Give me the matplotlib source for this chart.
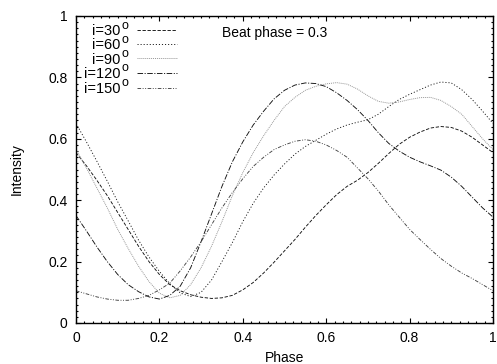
import numpy as np
import matplotlib
matplotlib.use("Agg")
import matplotlib.pyplot as plt
from matplotlib.lines import Line2D
from matplotlib.ticker import MultipleLocator

plt.rcParams['font.family'] = ['Liberation Sans', 'DejaVu Sans']
plt.rcParams['lines.scale_dashes'] = False

# ---- data ----
phase = [i * 0.025 for i in range(41)]

i30 = [0.555, 0.512, 0.465, 0.415, 0.360, 0.305, 0.250, 0.200, 0.158, 0.125,
       0.105, 0.092, 0.084, 0.080, 0.082, 0.090, 0.108, 0.132, 0.163, 0.198,
       0.235, 0.272, 0.312, 0.350, 0.385, 0.418, 0.445, 0.465, 0.490, 0.520,
       0.552, 0.582, 0.605, 0.622, 0.635, 0.640, 0.637, 0.625, 0.605, 0.580,
       0.555]

i60 = [0.650, 0.590, 0.527, 0.462, 0.395, 0.333, 0.270, 0.215, 0.168, 0.128,
       0.098, 0.086, 0.100, 0.140, 0.200, 0.262, 0.330, 0.390, 0.440, 0.482,
       0.518, 0.550, 0.575, 0.595, 0.615, 0.632, 0.645, 0.654, 0.662, 0.680,
       0.705, 0.728, 0.745, 0.760, 0.775, 0.785, 0.782, 0.760, 0.728, 0.690,
       0.650]

i90 = [0.565, 0.505, 0.440, 0.375, 0.305, 0.243, 0.185, 0.135, 0.097, 0.082,
       0.090, 0.125, 0.180, 0.250, 0.330, 0.415, 0.490, 0.555, 0.610, 0.660,
       0.705, 0.735, 0.758, 0.771, 0.779, 0.783, 0.778, 0.762, 0.740, 0.722,
       0.716, 0.720, 0.728, 0.734, 0.735, 0.725, 0.705, 0.680, 0.640, 0.600,
       0.565]

i120 = [0.350, 0.300, 0.248, 0.200, 0.158, 0.125, 0.102, 0.085, 0.078, 0.090,
        0.120, 0.180, 0.265, 0.355, 0.445, 0.525, 0.590, 0.645, 0.690, 0.730,
        0.758, 0.775, 0.782, 0.780, 0.770, 0.750, 0.725, 0.695, 0.660, 0.620,
        0.585, 0.560, 0.540, 0.525, 0.512, 0.498, 0.475, 0.445, 0.410, 0.375,
        0.345]

i150 = [0.105, 0.095, 0.085, 0.078, 0.074, 0.074, 0.080, 0.090, 0.108, 0.130,
        0.170, 0.215, 0.265, 0.320, 0.375, 0.425, 0.470, 0.510, 0.540, 0.565,
        0.580, 0.592, 0.597, 0.592, 0.580, 0.562, 0.540, 0.505, 0.470, 0.430,
        0.385, 0.345, 0.305, 0.272, 0.240, 0.210, 0.185, 0.163, 0.145, 0.125,
        0.105]

labels = ["i=30", "i=60", "i=90", "i=120", "i=150"]
series = [i30, i60, i90, i120, i150]

styles = [
    dict(color='#111111', lw=0.65, dashes=(2.4, 1.2)),
    dict(color='#111111', lw=0.65, dashes=(0.8, 1.4)),
    dict(color='#909090', lw=0.65, dashes=(0.7, 0.7)),
    dict(color='#111111', lw=0.65, dashes=(4.0, 1.1, 0.8, 1.1)),
    dict(color='#444444', lw=0.65, dashes=(2.6, 1.1, 0.7, 1.1, 0.7, 1.1)),
]

FS = 10

fig = plt.figure(figsize=(4.97, 3.64), dpi=100)
ax = fig.add_axes([76/497, (364-323)/364, (493-76)/497, (323-16)/364])

for y, st in zip(series, styles):
    ax.plot(phase, y, **st)

ax.set_xlim(0, 1)
ax.set_ylim(0, 1)
ax.xaxis.set_major_locator(MultipleLocator(0.2))
ax.yaxis.set_major_locator(MultipleLocator(0.2))
ax.xaxis.set_minor_locator(MultipleLocator(0.02))
ax.yaxis.set_minor_locator(MultipleLocator(0.02))
ax.xaxis.set_major_formatter(plt.FuncFormatter(lambda v, p: f"{v:g}"))
ax.yaxis.set_major_formatter(plt.FuncFormatter(lambda v, p: f"{v:g}"))
ax.tick_params(which='both', direction='in', top=True, right=True,
               labelsize=FS, width=0.8)
ax.tick_params(which='major', length=3.5, pad=6)
ax.tick_params(which='minor', length=1.6)
for s in ax.spines.values():
    s.set_linewidth(1.0)

ax.set_xlabel("Phase", fontsize=FS, labelpad=4)
ax.set_ylabel("Intensity", fontsize=FS, labelpad=18)

ax.text(0.35, 0.945, "Beat phase = 0.3", fontsize=FS, ha='left', va='center',
        transform=ax.transAxes)

# legend (right-aligned labels with raised "o", sample line to the right)
rows = [0.954, 0.909, 0.862, 0.815, 0.767]
for lab, st, yy in zip(labels, styles, rows):
    ax.text(0.107, yy - 0.004, lab, fontsize=10.5, ha='right', va='center',
            transform=ax.transAxes)
    ax.text(0.108, yy + 0.014, "o", fontsize=9, ha='left', va='center',
            transform=ax.transAxes)
    ax.add_line(Line2D([0.147, 0.2415], [yy, yy], transform=ax.transAxes, **st))

fig.savefig("out.png", dpi=100)
